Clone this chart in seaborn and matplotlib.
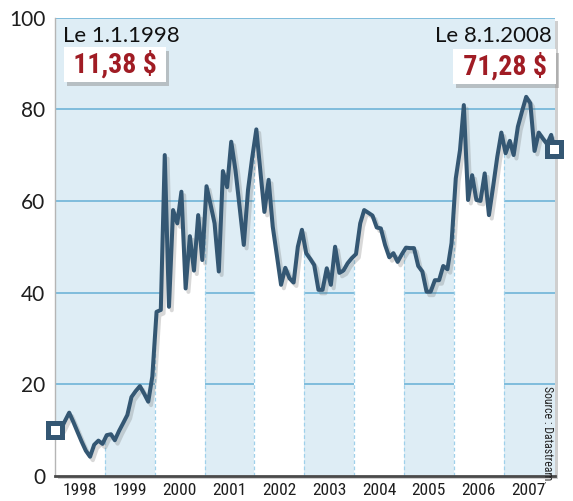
import pandas as pd
import matplotlib
matplotlib.use("Agg")
import matplotlib.pyplot as plt
import matplotlib.patheffects as pe
import matplotlib.transforms as mtransforms
from matplotlib.patches import Rectangle
import seaborn as sns

# ---------------- data ----------------
start_date = "1998-01-01"
start_value = 10.0
end_date = "2008-01-08"
end_value = 71.28

# monthly values, Jan 1998 .. Dec 2007 (mid-month)
monthly_values = [
    10.0, 10.3, 12.0, 13.8, 11.8, 9.6, 7.5, 5.5, 4.2, 6.8, 7.7, 7.0,        # 1998
    8.9, 9.1, 7.8, 9.8, 11.5, 13.3, 17.2, 18.5, 19.6, 18.0, 16.2, 21.7,     # 1999
    35.8, 36.2, 70.0, 36.9, 58.0, 55.1, 62.0, 40.9, 52.3, 44.8, 56.9, 47.1, # 2000
    63.2, 59.0, 55.1, 44.6, 66.5, 63.0, 72.9, 66.7, 58.5, 50.4, 62.4, 69.3, # 2001
    75.6, 66.0, 57.6, 64.6, 54.4, 48.0, 41.7, 45.4, 43.1, 42.2, 50.0, 53.7, # 2002
    48.6, 47.3, 46.0, 40.6, 40.6, 45.3, 41.7, 50.0, 44.3, 44.8, 46.4, 47.5, # 2003
    48.4, 55.1, 58.0, 57.4, 56.8, 54.2, 54.0, 50.4, 47.7, 48.6, 46.7, 48.3, # 2004
    49.8, 49.7, 49.7, 45.8, 44.6, 40.2, 40.2, 42.7, 42.7, 45.8, 45.1, 50.8, # 2005
    64.9, 71.1, 80.9, 60.2, 65.6, 60.2, 60.0, 66.0, 56.9, 63.0, 69.6, 74.9, # 2006
    70.4, 73.1, 70.0, 76.2, 79.5, 82.7, 81.3, 70.9, 74.9, 73.6, 72.4, 74.4, # 2007
]
years = list(range(1998, 2008))
y_ticks = [0, 20, 40, 60, 80, 100]

start_label = "Le 1.1.1998"
start_price = "11,38 $"
end_label = "Le 8.1.2008"
end_price = "71,28 $"
source_text = "Source : Datastream."

dates = ([pd.Timestamp(start_date)]
         + list(pd.date_range("1998-01-01", periods=len(monthly_values), freq="MS") + pd.Timedelta(days=14))
         + [pd.Timestamp(end_date)])
values = [start_value] + monthly_values + [end_value]
df = pd.DataFrame({"date": dates, "price": values})

# ---------------- style ----------------
line_color = "#345773"
red = "#a01c24"
bg_blue = "#deedf5"
grid_blue = "#6fb4d8"
dash_blue = "#9fd0ea"
narrow = ["Roboto Condensed", "Liberation Sans Narrow", "Liberation Sans"]

sns.set_style("white")
plt.rcParams["font.family"] = ["Lato", "DejaVu Sans"]

fig = plt.figure(figsize=(5.73, 5.01), dpi=100)
ax = fig.add_axes([0.096, 0.05, 0.8726, 0.915])

# panel shadow
shadow = Rectangle((0.096 + 0.006, 0.05 - 0.007), 0.8726, 0.915, transform=fig.transFigure,
                   facecolor="#a0a0a0", alpha=0.5, edgecolor="none", zorder=-1)
fig.patches.append(shadow)

x_start = pd.Timestamp("1998-01-01")
x_end = pd.Timestamp("2008-01-12")

ax.set_facecolor(bg_blue)
ax.set_axisbelow(True)
ax.yaxis.grid(True, color=grid_blue, lw=1.2)
ax.xaxis.grid(False)

# white area under the curve, covered again in the odd-year bands
under = ax.fill_between(df["date"], 0, df["price"], color="white", lw=0, zorder=1)
for y in years:
    if y % 2 == 1:
        right = pd.Timestamp(f"{y + 1}-01-01") if y < years[-1] else x_end
        ax.axvspan(pd.Timestamp(f"{y}-01-01"), right, color=bg_blue, lw=0, zorder=1.5)
        ax.hlines(y_ticks[1:], pd.Timestamp(f"{y}-01-01"), right, color=grid_blue, lw=1.2, zorder=1.6)
for y in years[1:]:
    vl = ax.axvline(pd.Timestamp(f"{y}-01-01"), color=dash_blue, lw=0.9, ls=(0, (3, 2)), zorder=1.7)
    vl.set_clip_path(under.get_paths()[0], ax.transData)

sns.lineplot(data=df, x="date", y="price", ax=ax, color=line_color, linewidth=2.9, zorder=3)
ax.lines[-1].set_path_effects([pe.SimpleLineShadow(offset=(2, -2.5), shadow_color="#666666", alpha=0.25),
                               pe.Normal()])

# start / end markers
for d, v in [(start_date, start_value), (end_date, end_value)]:
    ax.plot([pd.Timestamp(d)], [v], marker="s", ms=9.5, mfc="white", mec=line_color, mew=3.6,
            clip_on=False, zorder=6)

ax.set_xlim(x_start, x_end)
ax.set_ylim(0, 100)
ax.set_yticks(y_ticks)
ax.set_yticklabels([str(t) for t in y_ticks], fontsize=15, color="#1e1e1e")
ax.set_xticks([pd.Timestamp(f"{y}-07-02") for y in years])
ax.set_xticklabels([str(y) for y in years], fontsize=12.5, color="#1e1e1e", family=narrow)
ax.tick_params(axis="both", length=0)
ax.tick_params(axis="y", pad=7)
ax.tick_params(axis="x", pad=5)
ax.set_xlabel("")
ax.set_ylabel("")

for s in ["top", "right"]:
    ax.spines[s].set_visible(False)
ax.spines["left"].set_color("#b5b5b5")
ax.spines["left"].set_linewidth(1.0)
ax.spines["bottom"].set_color("#4a4a4a")
ax.spines["bottom"].set_linewidth(2.0)

# annotations
ax.text(0.016, 0.947, start_label, transform=ax.transAxes, fontsize=16, color="#111111",
        ha="left", va="baseline", zorder=7)
ax.text(0.994, 0.947, end_label, transform=ax.transAxes, fontsize=16, color="#111111",
        ha="right", va="baseline", zorder=7)

box = dict(boxstyle="square,pad=0.12", facecolor="white", edgecolor="none")
shadow_box = dict(boxstyle="square,pad=0.12", facecolor="#888888", edgecolor="none", alpha=0.45)
shift = mtransforms.offset_copy(ax.transAxes, fig=fig, x=3, y=-4, units="dots")
for xpos, ypos, ha, txt in [(0.024, 0.880, "left", start_price), (0.996, 0.876, "right", end_price)]:
    label = f" {txt} "
    ax.text(xpos, ypos, label, transform=shift, fontsize=20, fontweight="bold", color="#888888",
            alpha=0.0, family=narrow, ha=ha, va="baseline", bbox=shadow_box, zorder=6.5)
    ax.text(xpos, ypos, label, transform=ax.transAxes, fontsize=20, fontweight="bold", color=red,
            family=narrow, ha=ha, va="baseline", bbox=box, zorder=7)

ax.text(0.985, 0.196, source_text, transform=ax.transAxes, rotation=-90, fontsize=8.5,
        color="#222222", family=narrow, ha="center", va="top", zorder=7)

fig.savefig("out.png", dpi=100)
